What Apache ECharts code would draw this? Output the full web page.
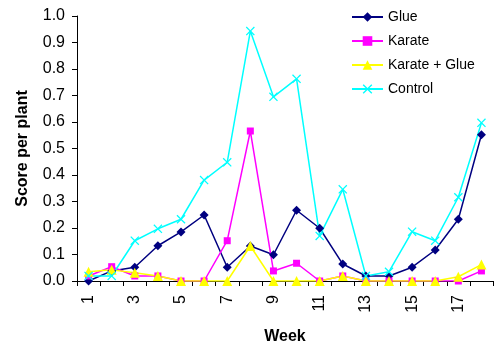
<!DOCTYPE html>
<html>
<head>
<meta charset="utf-8">
<script src="https://cdn.jsdelivr.net/npm/echarts@6/dist/echarts.min.js"></script>
<style>
  html, body { margin: 0; padding: 0; background: #fff; }
  #chart { width: 494px; height: 347px; }
</style>
</head>
<body>
<div id="chart"></div>
<script>
// Weekly scores per plant for each treatment
const weeks = ['1','2','3','4','5','6','7','8','9','10','11','12','13','14','15','16','17','18'];
const glue = [0.0, 0.038, 0.052, 0.133, 0.185, 0.249, 0.052, 0.132, 0.099, 0.267, 0.199, 0.064, 0.019, 0.019, 0.052, 0.117, 0.233, 0.552];
const karate = [0.019, 0.054, 0.019, 0.019, 0.0, 0.0, 0.152, 0.566, 0.038, 0.067, 0.0, 0.019, 0.0, 0.0, 0.0, 0.0, 0.0, 0.038];
const karateGlue = [0.035, 0.042, 0.031, 0.019, 0.0, 0.0, 0.0, 0.132, 0.0, 0.0, 0.0, 0.019, 0.0, 0.0, 0.0, 0.0, 0.016, 0.062];
const control = [0.019, 0.019, 0.152, 0.197, 0.233, 0.381, 0.448, 0.943, 0.695, 0.763, 0.170, 0.346, 0.019, 0.035, 0.186, 0.152, 0.316, 0.597];

// Thin "x" cross marker
const crossSymbol = 'path://M0,1L1,0L5,4L9,0L10,1L6,5L10,9L9,10L5,6L1,10L0,9L4,5Z';

const font = 'Arial, "Liberation Sans", sans-serif';

function lineSeries(name, data, color, symbol, size) {
  return {
    name: name,
    type: 'line',
    data: data,
    symbol: symbol,
    symbolSize: size,
    lineStyle: { color: color, width: 1.5 },
    itemStyle: { color: color },
    emphasis: { disabled: true }
  };
}

const chart = echarts.init(document.getElementById('chart'), null, { renderer: 'canvas' });
chart.setOption({
  animation: false,
  backgroundColor: '#ffffff',
  grid: { left: 77, right: 1, top: 16, bottom: 66, containLabel: false, outerBoundsMode: 'none' },
  legend: {
    orient: 'vertical',
    left: 346,
    top: 5,
    itemWidth: 31,
    itemHeight: 12,
    itemGap: 10,
    textStyle: { fontFamily: font, fontSize: 14, color: '#000' },
    data: ['Glue', 'Karate', 'Karate + Glue', 'Control']
  },
  xAxis: {
    type: 'category',
    data: weeks,
    boundaryGap: true,
    name: 'Week',
    nameLocation: 'middle',
    nameGap: 48,
    nameTextStyle: { fontFamily: font, fontSize: 16, fontWeight: 'bold', color: '#000' },
    axisLine: { lineStyle: { color: '#000', width: 1 } },
    axisTick: { show: true, interval: 0, length: 5, lineStyle: { color: '#000' } },
    axisLabel: { interval: 1, rotate: 90, fontFamily: font, fontSize: 16, color: '#000', margin: 14 },
    splitLine: { show: false }
  },
  yAxis: {
    type: 'value',
    min: 0,
    max: 1,
    interval: 0.1,
    name: 'Score per plant',
    nameLocation: 'middle',
    nameGap: 46,
    nameTextStyle: { fontFamily: font, fontSize: 16, fontWeight: 'bold', color: '#000' },
    axisLine: { show: true, lineStyle: { color: '#000', width: 1 } },
    axisTick: { show: true, length: 5, lineStyle: { color: '#000' } },
    axisLabel: { fontFamily: font, fontSize: 16, color: '#000', margin: 12, formatter: v => v.toFixed(1) },
    splitLine: { show: false }
  },
  series: [
    lineSeries('Glue', glue, '#000080', 'diamond', 9),
    lineSeries('Karate', karate, '#ff00ff', 'rect', 7),
    lineSeries('Karate + Glue', karateGlue, '#ffff00', 'triangle', 10),
    lineSeries('Control', control, '#00ffff', crossSymbol, 9)
  ]
});
</script>
</body>
</html>
